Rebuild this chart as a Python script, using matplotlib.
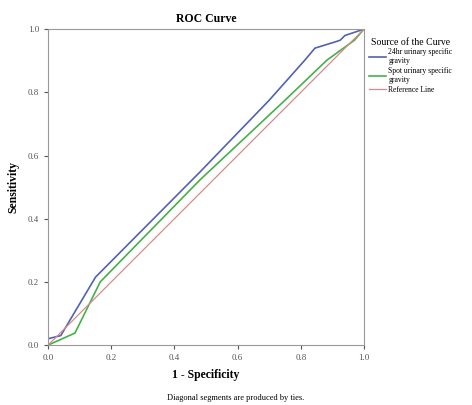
import numpy as np
import matplotlib
matplotlib.use('Agg')
from matplotlib import pyplot as plt

# ROC curve points
fpr_24hr = [0.0, 0.04, 0.15, 0.48, 0.70, 0.813, 0.845, 0.91, 0.925, 0.94, 1.0]
tpr_24hr = [0.02, 0.03, 0.215, 0.547, 0.775, 0.902, 0.94, 0.96, 0.965, 0.98, 1.0]

fpr_spot = [0.0, 0.085, 0.165, 0.48, 0.75, 0.883, 0.97, 1.0]
tpr_spot = [0.0, 0.038, 0.20, 0.522, 0.775, 0.902, 0.965, 1.0]

ref_x = [0.0, 1.0]
ref_y = [0.0, 1.0]

ticks = [0.0, 0.2, 0.4, 0.6, 0.8, 1.0]
tick_labels = ['0.0', '0.2', '0.4', '0.6', '0.8', '1.0']

plt.rcParams['font.family'] = ['Liberation Serif', 'DejaVu Serif']

fig = plt.figure(figsize=(4.72, 4.05), dpi=100)
ax = fig.add_axes([0.102, 0.148, 0.669, 0.780])

ax.plot(fpr_24hr, tpr_24hr, color='#5362ad', lw=1.2, label='24hr urinary specific\ngravity')
ax.plot(fpr_spot, tpr_spot, color='#45b04a', lw=1.2, label='Spot urinary specific\ngravity')
ax.plot(ref_x, ref_y, color='#d98a8a', lw=0.9, label='Reference Line')

ax.set_xlim(0, 1)
ax.set_ylim(0, 1)
ax.set_xticks(ticks)
ax.set_xticklabels(tick_labels)
ax.set_yticks(ticks)
ax.set_yticklabels(tick_labels)
ax.tick_params(direction='out', length=3, width=0.8, colors='#555555', labelsize=6.5)
for s in ax.spines.values():
    s.set_color('#999999')
    s.set_linewidth(0.8)

ax.set_title('ROC Curve', fontsize=8.5, fontweight='bold', pad=5)
ax.set_xlabel('1 - Specificity', fontsize=8.5, fontweight='bold', labelpad=5)
ax.set_ylabel('Sensitivity', fontsize=8.5, fontweight='bold', labelpad=6)

leg = ax.legend(loc='upper left', bbox_to_anchor=(1.0, 0.99), frameon=False,
                title='Source of the Curve', fontsize=5.5, title_fontsize=7,
                handlelength=2.2, handletextpad=0.3, labelspacing=0.2,
                borderaxespad=0.3)

fig.text(0.5, 0.012, 'Diagonal segments are produced by ties.', ha='center', fontsize=6)

plt.savefig('out.png', dpi=100)
